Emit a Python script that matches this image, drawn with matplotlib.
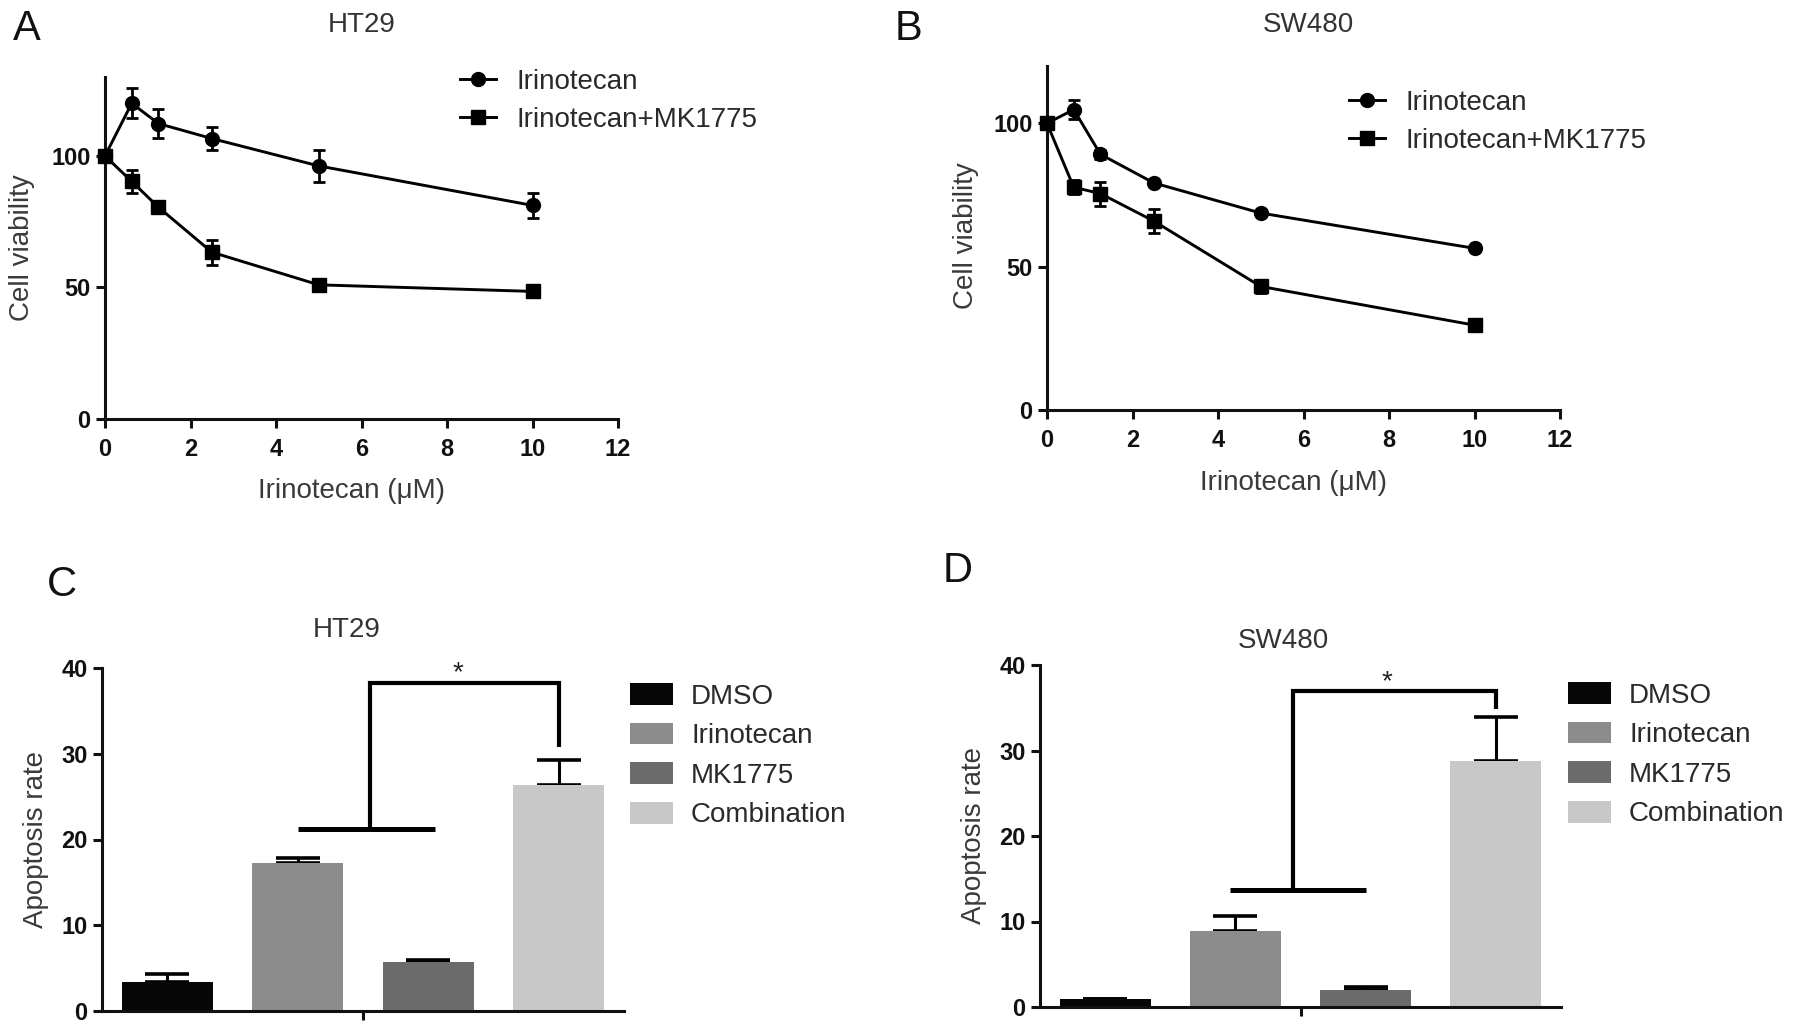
import matplotlib.pyplot as plt
from matplotlib.patches import Patch

W, H = 1795, 1033
plt.rcParams['font.family'] = ['Liberation Sans', 'DejaVu Sans']

# viability curves (A, B)
conc = [0, 0.625, 1.25, 2.5, 5, 10]
ht29_iri = [100, 120.0, 112.3, 106.6, 96.2, 81.2]
ht29_iri_err = [1.0, 5.7, 5.6, 4.5, 6.0, 4.7]
ht29_combo = [100, 90.3, 80.5, 63.4, 51.0, 48.5]
ht29_combo_err = [1.0, 4.5, 1.5, 4.8, 1.5, 1.5]
sw480_iri = [100, 104.8, 89.2, 79.2, 68.7, 56.4]
sw480_iri_err = [1.0, 3.4, 1.5, 1.0, 1.2, 1.0]
sw480_combo = [100, 77.7, 75.5, 65.9, 43.1, 29.6]
sw480_combo_err = [1.0, 2.5, 4.2, 4.3, 2.2, 1.5]

# apoptosis bars (C, D)
groups = ['DMSO', 'Irinotecan', 'MK1775', 'Combination']
bar_colors = ['#060606', '#8c8c8c', '#6b6b6b', '#c8c8c8']
ht29_apop = [3.4, 17.3, 5.75, 26.4]
ht29_apop_err = [0.9, 0.6, 0.15, 2.9]
sw480_apop = [0.95, 8.9, 1.95, 28.8]
sw480_apop_err = [0.03, 1.8, 0.4, 5.1]


def fx(px):
    return px / W


def fy(py):
    return 1 - py / H


fig = plt.figure(figsize=(W / 100, H / 100), dpi=100)


def axes_px(x0, x1, y_top, y_bot):
    return fig.add_axes([fx(x0), fy(y_bot), (x1 - x0) / W, (y_bot - y_top) / H])


def style(ax):
    for s in ['top', 'right']:
        ax.spines[s].set_visible(False)
    for s in ['left', 'bottom']:
        ax.spines[s].set_linewidth(2.2)
        ax.spines[s].set_color('#111111')
    ax.tick_params(width=2.2, length=6.5, labelsize=17, colors='#111111', pad=4)
    ax.tick_params(axis='x', pad=7)
    for lab in ax.get_xticklabels() + ax.get_yticklabels():
        lab.set_fontweight('bold')


def label(x, y, s, size=20, rot=0, color='#3a3a3a'):
    fig.text(fx(x), fy(y), s, ha='center', va='center', fontsize=size,
             rotation=rot, color=color)


def curve_panel(ax, iri, iri_err, combo, combo_err, ymax, leg_xy):
    kw = dict(color='k', lw=2.1, ms=10, clip_on=False, zorder=3)
    ekw = dict(fmt='none', ecolor='k', elinewidth=2, capsize=4.5, capthick=2,
               clip_on=False, zorder=2)
    ax.errorbar(conc, iri, yerr=iri_err, **ekw)
    ax.plot(conc, iri, '-o', label='Irinotecan', **kw)
    ax.errorbar(conc, combo, yerr=combo_err, **ekw)
    ax.plot(conc, combo, '-s', label='Irinotecan+MK1775', **kw)
    ax.set_xlim(0, 12)
    ax.set_ylim(0, ymax)
    ax.set_xticks(range(0, 13, 2))
    ax.set_yticks([0, 50, 100])
    style(ax)
    ax.legend(loc='upper left', bbox_to_anchor=(fx(leg_xy[0]), fy(leg_xy[1])),
              bbox_transform=fig.transFigure, frameon=False, fontsize=20,
              handlelength=1.3, handletextpad=0.72, labelspacing=0.42,
              borderpad=0, borderaxespad=0, labelcolor='#2a2a2a')


def bar_panel(ax, vals, errs, low, mid_x, top_y, right_y, star_xy, leg_xy):
    x = list(range(len(groups)))
    ax.errorbar(x, vals, yerr=[[0] * len(errs), errs], fmt='none', ecolor='k',
                elinewidth=2.2, capsize=15.5, capthick=2.6, zorder=1)
    ax.bar(x, vals, width=0.7, color=bar_colors, zorder=2)
    # significance bracket
    ax.plot([low[0], low[1]], [low[2], low[2]], color='k', lw=3.6,
            solid_capstyle='butt', clip_on=False)
    ax.plot([mid_x, mid_x, 3.0, 3.0], [low[2], top_y, top_y, right_y],
            color='k', lw=3, solid_joinstyle='miter', solid_capstyle='butt',
            clip_on=False)
    ax.text(star_xy[0], star_xy[1], '*', ha='center', va='center',
            fontsize=20, color='#222222')
    ax.set_xlim(-0.5, 3.5)
    ax.set_ylim(0, 40)
    ax.set_xticks([1.5])
    ax.set_xticklabels([''])
    ax.set_yticks(range(0, 41, 10))
    style(ax)
    handles = [Patch(facecolor=c, edgecolor='none') for c in bar_colors]
    ax.legend(handles, groups, loc='upper left',
              bbox_to_anchor=(fx(leg_xy[0]), fy(leg_xy[1])),
              bbox_transform=fig.transFigure, frameon=False, fontsize=20,
              handlelength=1.55, handleheight=0.83, handletextpad=0.65,
              labelspacing=0.47, borderpad=0, borderaxespad=0,
              labelcolor='#2a2a2a')


# A
axA = axes_px(105, 618, 77, 419)
curve_panel(axA, ht29_iri, ht29_iri_err, ht29_combo, ht29_combo_err, 130, (460, 69))
label(27, 29, 'A', size=30, color='#111111')
label(362, 25, 'HT29', color='#333333')
label(352, 491, 'Irinotecan (μM)')
label(22, 248, 'Cell viability', rot=90)

# B
axB = axes_px(1047, 1560, 66, 410)
curve_panel(axB, sw480_iri, sw480_iri_err, sw480_combo, sw480_combo_err, 120, (1349, 90))
label(908, 29, 'B', size=30, color='#111111')
label(1308, 25, 'SW480', color='#333333')
label(1293, 483, 'Irinotecan (μM)')
label(966, 236, 'Cell viability', rot=90)

# C
axC = axes_px(102, 624, 668, 1011)
bar_panel(axC, ht29_apop, ht29_apop_err, (1.0, 2.05, 21.2), 1.55, 38.3, 30.8,
          (2.23, 39.4), (630, 683))
label(62, 585, 'C', size=30, color='#111111')
label(347, 630, 'HT29', color='#333333')
label(36, 839, 'Apoptosis rate', rot=90)

# D
axD = axes_px(1040, 1561, 665, 1007)
bar_panel(axD, sw480_apop, sw480_apop_err, (0.96, 2.0, 13.7), 1.44, 37.0, 34.8,
          (2.16, 38.0), (1568, 682))
label(958, 571, 'D', size=30, color='#111111')
label(1283, 641, 'SW480', color='#333333')
label(974, 836, 'Apoptosis rate', rot=90)

fig.savefig('out.png', dpi=100)
